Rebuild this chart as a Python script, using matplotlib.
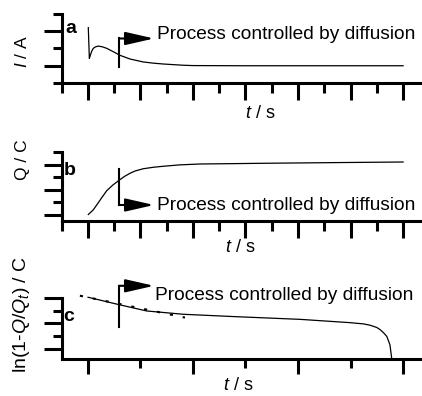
import numpy as np
import matplotlib
matplotlib.use("Agg")
import matplotlib.pyplot as plt

plt.rcParams['font.family'] = ['Liberation Sans', 'DejaVu Sans']
plt.rcParams['mathtext.fontset'] = 'custom'
plt.rcParams['mathtext.rm'] = 'Liberation Sans'
plt.rcParams['mathtext.it'] = 'Liberation Sans:italic'

# current transient (a)
t_current = [1.02, 1.06, 1.10, 1.15, 1.21, 1.30, 1.40, 1.55, 1.72, 2.04, 2.20, 2.61, 3.11, 3.50, 3.88, 4.63, 5.0, 7.0, 10.0, 13.0]
current   = [3.21, 1.43, 1.62, 1.84, 2.01, 2.10, 2.14, 2.10, 2.01, 1.76, 1.62, 1.39, 1.22, 1.15, 1.10, 1.03, 1.01, 1.0, 1.0, 1.0]

# charge (b)
t_charge = [1.02, 1.20, 1.34, 1.50, 1.72, 1.95, 2.20, 2.40, 2.61, 2.80, 3.11, 3.50, 3.88, 4.50, 5.27, 7.81, 10.3, 13.0]
charge   = [0.0, 0.35, 0.76, 1.25, 1.90, 2.35, 2.75, 3.05, 3.30, 3.48, 3.66, 3.78, 3.86, 3.97, 4.04, 4.10, 4.15, 4.20]

# ln(1-Q/Qt) (c) and its linear fit
t_ln = [1.01, 2.10, 3.24, 4.63, 6.53, 9.08, 10.98, 11.50, 11.74, 12.00, 12.12, 12.25, 12.38, 12.50, 12.57]
ln_q = [4.06, 3.52, 2.98, 2.72, 2.54, 2.32, 2.06, 1.96, 1.86, 1.68, 1.52, 1.28, 0.98, 0.32, -0.80]
t_fit = [0.70, 4.70]
ln_fit = [4.18, 2.46]

note = 'Process controlled by diffusion'

W, H = 422, 396
fig = plt.figure(figsize=(W/100, H/100), dpi=100)

def box(left, top, bottom, right=W):
    return [left/W, 1-bottom/H, (right-left)/W, (bottom-top)/H]

def px(x, y):
    return x/W, 1-y/H

LW = 2.2
XMAX = 13.72

def style(ax, ylim, ymajor, yminor, xmajor, xminor, xlen=(12.2, 7.2)):
    for s in ['top', 'right']:
        ax.spines[s].set_visible(False)
    for s in ['left', 'bottom']:
        ax.spines[s].set_linewidth(LW)
    ax.set_xlim(0, XMAX)
    ax.set_ylim(*ylim)
    ax.set_xticks(xmajor)
    ax.set_xticks(xminor, minor=True)
    ax.set_yticks(ymajor)
    ax.set_yticks(yminor, minor=True)
    ax.tick_params(axis='x', which='major', direction='out', length=xlen[0], width=LW)
    ax.tick_params(axis='x', which='minor', direction='out', length=xlen[1], width=LW)
    ax.tick_params(axis='y', which='major', direction='out', length=13, width=LW)
    ax.tick_params(axis='y', which='minor', direction='out', length=6.5, width=LW)
    ax.tick_params(labelbottom=False, labelleft=False)
    ax.patch.set_visible(False)

def diffusion_note(ax, corner_x, arrow_y, end_y, tip_x, text_x, text_y):
    ax.plot([corner_x, corner_x], [end_y, arrow_y], color='k', lw=1.5, clip_on=False)
    ax.annotate('', xy=(tip_x, arrow_y), xytext=(corner_x, arrow_y),
                arrowprops=dict(arrowstyle='-|>,head_length=1.75,head_width=0.4',
                                mutation_scale=10, color='k', lw=1.5,
                                shrinkA=0, shrinkB=0),
                annotation_clip=False)
    ax.text(text_x, text_y, note, fontsize=13.8, va='baseline', ha='left', clip_on=False)

odd = list(range(1, 14, 2))
even = list(range(0, 13, 2))

# a: current
ax1 = fig.add_axes(box(61.5, 14, 83))
style(ax1, (0, 4), [1, 3], [0, 2, 4], odd, even)
ax1.plot(t_current, current, color='k', lw=0.9)
diffusion_note(ax1, 2.19, 2.58, 0.95, 3.52, 3.64, (83-39.5)/17.25)

# b: charge
ax2 = fig.add_axes(box(61.5, 152, 221))
style(ax2, (-0.52, 5), [0, 2, 4], [1, 3, 5], odd, even)
ax2.plot(t_charge, charge, color='k', lw=0.9)
diffusion_note(ax2, 2.19, 0.76, 3.64, 3.52, 3.64, (214.5-209.5)/12.5)

# c: ln(1-Q/Qt)
ax3 = fig.add_axes(box(61.5, 298, 359))
style(ax3, (-0.8, 4.0), [0, 2, 4], [1, 3], [1, 5, 9, 13], [3, 7, 11], xlen=(11, 6.5))
ax3.plot(t_ln, ln_q, color='k', lw=0.9, clip_on=False)
ax3.plot(t_fit, ln_fit, color='k', lw=1.5, linestyle=(0, (1.5, 4.8)), clip_on=False)
diffusion_note(ax3, 2.19, 4.96, 1.70, 3.52, 3.55, (349-301)/12.5)

# panel letters
for lab, (x, y) in zip('abc', [(65, 33), (64, 175), (63, 321)]):
    fig.text(*px(x, y), lab, fontsize=14, fontweight='bold', va='baseline', ha='left')

# axis titles
fig.text(*px(22, 52), r'$\it{I}$ / A', fontsize=12.5, rotation=90, ha='center', va='center')
fig.text(*px(22, 160), 'Q / C', fontsize=12.5, rotation=90, ha='center', va='center')
fig.text(*px(22, 314), r'ln(1-$\it{Q}$/$\it{Q}_{\it{t}}$) / C', fontsize=14,
         rotation=90, ha='center', va='center')
for x, y in [(260, 113), (240, 248), (238, 386)]:
    fig.text(*px(x, y), r'$\it{t}$ / s', fontsize=13, ha='center', va='center')

fig.savefig('out.png', dpi=100)
